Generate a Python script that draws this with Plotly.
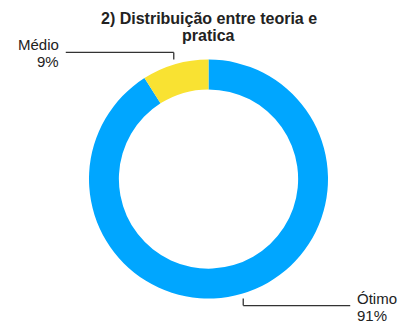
import math
import plotly.graph_objects as go

# Survey result: distribution between theory and practice
categories = ["Ótimo", "Médio"]
values = [91, 9]
colors = ["#00A6FF", "#F9E232"]
title_lines = ["2) Distribuição entre teoria e", "pratica"]

W, H = 400, 325
FONT = "Liberation Sans, Arial, Helvetica, sans-serif"
TEXT = "#222222"

# donut geometry in pixels
cx, cy, R = 208.5, 179.0, 119.5

def px(x):
    return x / W

def py(y):
    return 1 - y / H

fig = go.Figure(go.Pie(
    labels=categories,
    values=values,
    marker=dict(colors=colors, line=dict(width=0)),
    hole=0.75,
    sort=False,
    direction="clockwise",
    rotation=0,
    textinfo="none",
    hoverinfo="label+percent",
    domain=dict(x=[px(cx - R), px(cx + R)], y=[py(cy + R), py(cy - R)]),
))

shapes = []
annotations = []

# leader lines: slices run clockwise from 12 o'clock
total = sum(values)
cum = 0.0
for name, v in zip(categories, values):
    mid = (cum + v / 2) / total * 2 * math.pi
    cum += v
    sx = cx + (R + 5) * math.sin(mid)
    sy = cy - (R + 5) * math.cos(mid)
    up = math.cos(mid) > 0
    left = math.sin(mid) < 0
    ly = sy - 7 if up else sy + 7
    ex = sx - 108 if left else sx + 107
    line = dict(color="#333333", width=1.3)
    shapes.append(dict(type="line", xref="paper", yref="paper",
                       x0=px(sx), y0=py(sy), x1=px(sx), y1=py(ly), line=line))
    shapes.append(dict(type="line", xref="paper", yref="paper",
                       x0=px(sx), y0=py(ly), x1=px(ex), y1=py(ly), line=line))
    pct = f"{round(v / total * 100)}%"
    tx = ex - 5 if left else ex + 5
    anchor = "right" if left else "left"
    for txt, dy in ((name, -8.5), (pct, 8.5)):
        annotations.append(dict(text=txt, xref="paper", yref="paper",
                                x=px(tx), y=py(ly + 1 + dy), xanchor=anchor,
                                yanchor="middle", showarrow=False,
                                font=dict(family=FONT, size=15, color=TEXT)))

for txt, yc in zip(title_lines, (18.5, 35.5)):
    annotations.append(dict(text=f"<b>{txt}</b>", xref="paper", yref="paper",
                            x=px(208.5), y=py(yc), xanchor="center",
                            yanchor="middle", showarrow=False,
                            font=dict(family=FONT, size=16, color=TEXT)))

fig.update_layout(
    width=W, height=H,
    margin=dict(l=0, r=0, t=0, b=0),
    paper_bgcolor="white", plot_bgcolor="white",
    showlegend=False,
    shapes=shapes,
    annotations=annotations,
)

fig.write_html("out.html")
